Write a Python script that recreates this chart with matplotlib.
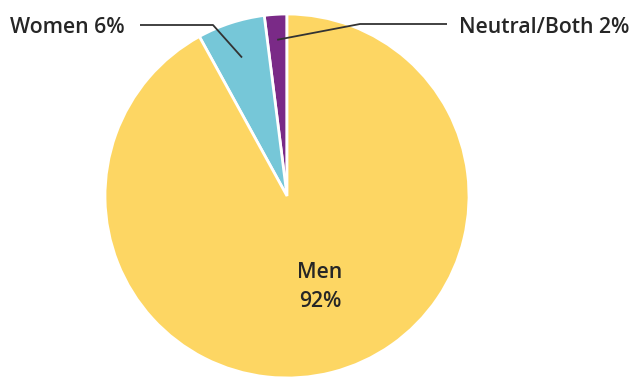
import numpy as np
import matplotlib
matplotlib.use("Agg")
import matplotlib.pyplot as plt

labels = ["Neutral/Both", "Women", "Men"]
shares = [2, 6, 92]
colors = ["#7a2a87", "#76c7d8", "#fdd663"]

W, H = 631, 377
fig = plt.figure(figsize=(W / 100, H / 100), dpi=100)
ax = fig.add_axes([0, 0, 1, 1])

cx, cy, R = 287, H - 196, 182
wedges, _ = ax.pie(shares, colors=colors, startangle=90, counterclock=True,
                   center=(cx, cy), radius=R, frame=True,
                   wedgeprops=dict(edgecolor="white", linewidth=2))
ax.set_xlim(0, W)
ax.set_ylim(0, H)
ax.set_aspect("equal")
ax.axis("off")

font = dict(family=["Open Sans", "DejaVu Sans"], weight="semibold",
            color="#262626", fontsize=15.3)
line = dict(color="#333333", lw=1.3, solid_capstyle="butt")


def mid_point(w, frac):
    ang = np.deg2rad((w.theta1 + w.theta2) / 2)
    return cx + frac * R * np.cos(ang), cy + frac * R * np.sin(ang)


ty = H - 25
base = H - 33
# Women
ex, ey = mid_point(wedges[1], 0.80)
ax.plot([140, 213, ex], [ty, ty, ey], **line)
ax.text(10, base, f"{labels[1]} {shares[1]}%", ha="left", va="baseline", **font)
# Neutral/Both
ex, ey = mid_point(wedges[0], 0.86)
ax.plot([447, 360, ex], [ty + 1, ty + 1, ey], **line)
ax.text(459, base, f"{labels[0]} {shares[0]}%", ha="left", va="baseline", **font)

# Men label inside its slice
ax.text(320, H - 278, labels[2], ha="center", va="baseline", **font)
ax.text(320, H - 307, f"{shares[2]}%", ha="center", va="baseline", **font)

fig.savefig("out.png", dpi=100, facecolor="white")
